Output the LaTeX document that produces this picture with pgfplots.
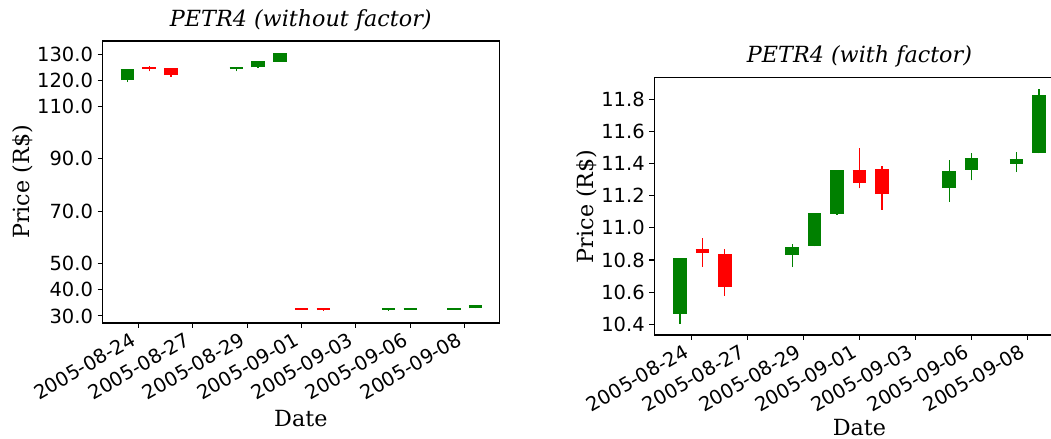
\documentclass[border=0pt]{standalone}
\usepackage{fontspec}
\setmainfont{DejaVu Serif}
\setsansfont{DejaVu Sans}
\usepackage{pgfplots}
\usepackage{pgfplotstable}
\pgfplotsset{compat=1.18}

\definecolor{upgreen}{RGB}{0,128,0}
\definecolor{downred}{RGB}{255,0,0}

% day = day of August 2005 (32 = 2005-09-01)
\pgfplotstableread{
day open high low close
24 120.04 123.93 119.33 123.93
29 124.27 125.05 123.36 124.74
30 124.89 127.26 124.85 127.19
31 127.14 130.28 127.12 130.24
36 32.28 32.79 32.03 32.57
37 32.61 32.91 32.42 32.81
39 32.72 32.93 32.57 32.79
40 32.91 34.06 32.90 33.93
}\rawup
\pgfplotstableread{
day open high low close
25 124.60 125.46 123.38 124.38
26 124.24 124.64 121.33 121.97
32 32.59 33.00 32.27 32.37
33 32.60 32.68 31.90 32.17
}\rawdown
\pgfplotstableread{
day open high low close
24 10.466 10.805 10.404 10.805
29 10.834 10.902 10.755 10.875
30 10.888 11.095 10.885 11.089
31 11.085 11.358 11.083 11.355
36 11.247 11.424 11.162 11.349
37 11.361 11.467 11.295 11.432
39 11.400 11.475 11.347 11.426
40 11.467 11.866 11.463 11.824
}\adjup
\pgfplotstableread{
day open high low close
25 10.863 10.938 10.757 10.844
26 10.832 10.867 10.578 10.634
32 11.355 11.498 11.245 11.278
33 11.359 11.386 11.114 11.210
}\adjdown

\pgfplotsset{
  candle axis/.style={
    scale only axis,
    axis line style={black, line width=0.8pt},
    tick align=outside,
    tick pos=left,
    major tick length=3.65pt,
    every tick/.style={black, line width=0.8pt},
    xtick={24.5,27,29.5,32,34.5,37,39.5},
    xticklabels={2005-08-24,2005-08-27,2005-08-29,2005-09-01,2005-09-03,2005-09-06,2005-09-08},
    /pgf/number format/assume math mode=true,
    ticklabel style={font=\fontsize{14.6}{17.5}\selectfont\sffamily},
    yticklabel style={/pgf/number format/.cd, fixed, fixed zerofill, precision=1},
    xticklabel style={xshift=-6pt, yshift=-1pt, rotate=30, anchor=north east, inner sep=1pt},
    title style={font=\fontsize{16.7}{20}\selectfont\itshape, at={(axis description cs:0.5,1)}, anchor=base, yshift=5pt},
    xlabel=Date,
    ylabel=Price (R\$),
    label style={font=\fontsize{16.7}{20}\selectfont},
  },
  wick/.style={mark=none, draw=none, forget plot,
    error bars/.cd, y dir=plus, y explicit, error mark=none,
    error bar style={draw=#1, line width=0.9pt}},
  body/.style={mark=none, draw=none, forget plot,
    error bars/.cd, y dir=plus, y explicit, error mark=-,
    error mark options={rotate=90, draw=#1, line width=1.2pt, mark size=5.1pt},
    error bar style={draw=#1, line width=10.2pt}},
}

\begin{document}
\begin{tikzpicture}

\begin{axis}[
  candle axis,
  at={(76.9pt,87pt)}, anchor=south west,
  width=297.4pt, height=211.5pt,
  xmin=22.85, xmax=41.08,
  ymin=27.3, ymax=135.0,
  ytick={30,40,50,70,90,110,120,130},
  title={PETR4 (without factor)},
  xlabel style={at={(axis description cs:0.5,0)}, anchor=base, yshift=-78pt},
  ylabel style={at={([xshift=-54.75pt]axis description cs:0,0.5)}, anchor=base},
]
\addplot[wick=upgreen] table[x=day, y=low, y error plus expr=\thisrow{high}-\thisrow{low}] {\rawup};
\addplot[wick=downred] table[x=day, y=low, y error plus expr=\thisrow{high}-\thisrow{low}] {\rawdown};
\addplot[body=upgreen] table[x=day, y=open, y error plus expr=\thisrow{close}-\thisrow{open}] {\rawup};
\addplot[body=downred] table[x=day, y=close, y error plus expr=\thisrow{open}-\thisrow{close}] {\rawdown};
\end{axis}

\begin{axis}[
  candle axis,
  at={(490.7pt,78pt)}, anchor=south west,
  width=307.8pt, height=193pt,
  xmin=22.855, xmax=41.145,
  ymin=10.333, ymax=11.935,
  ytick={10.4,10.6,...,11.81},
  title={PETR4 (with factor)},
  xlabel style={at={(axis description cs:0.5,0)}, anchor=base, yshift=-75.5pt},
  ylabel style={at={([xshift=-45.8pt]axis description cs:0,0.5)}, anchor=base},
]
\addplot[wick=upgreen] table[x=day, y=low, y error plus expr=\thisrow{high}-\thisrow{low}] {\adjup};
\addplot[wick=downred] table[x=day, y=low, y error plus expr=\thisrow{high}-\thisrow{low}] {\adjdown};
\addplot[body=upgreen] table[x=day, y=open, y error plus expr=\thisrow{close}-\thisrow{open}] {\adjup};
\addplot[body=downred] table[x=day, y=close, y error plus expr=\thisrow{open}-\thisrow{close}] {\adjdown};
\end{axis}

\pgfresetboundingbox
\path[use as bounding box] (0,0) rectangle (788.25pt,329.25pt);
\end{tikzpicture}
\end{document}
